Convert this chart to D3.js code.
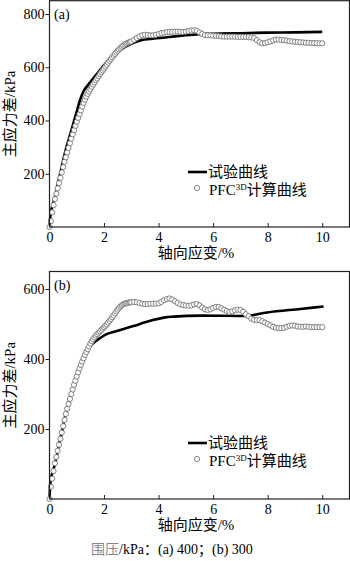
<!DOCTYPE html>
<html>
<head>
<meta charset="utf-8">
<script src="https://cdn.jsdelivr.net/npm/d3@7/dist/d3.min.js"></script>
<style>
html,body{margin:0;padding:0;background:#fff;}
svg{display:block;}
</style>
</head>
<body>
<svg id="chart" width="350" height="561"></svg>
<script>
// ---------- DATA ----------
const xTicks = [0, 2, 4, 6, 8, 10];
const yTicksA = [200, 400, 600, 800];
const yTicksB = [200, 400, 600];
const seriesNames = ["试验曲线", "PFC3D计算曲线"];
const captionLabel = "围压";
const captionRest = "/kPa：(a) 400；(b) 300";

// test curves [strain %, stress kPa]
const testA = [[0,0],[0.03,40],[0.2,112],[0.4,205],[0.6,292],[0.8,362],[1.0,434],[1.12,477],[1.24,508],[1.4,532],[1.6,558],[1.8,583],[2.0,608],[2.29,640],[2.5,658],[2.78,677],[3.0,688],[3.39,702],[3.7,706],[4.25,712],[4.6,716],[5.0,720],[5.5,724],[6.0,726],[7.0,728],[8.0,730],[9.0,731],[10.0,733]];
const testB = [[0,0],[0.03,45],[0.2,100],[0.4,172],[0.6,245],[0.8,300],[1.0,352],[1.2,398],[1.4,428],[1.6,445],[1.86,460],[2.04,469],[2.47,480],[3.08,494],[3.51,505],[3.69,509],[4.25,519],[4.55,521],[5.53,524],[7.12,523],[7.98,533],[9.2,543],[10.05,550]];

// PFC simulation sample strains (%)
const pfcStrain = [0,0.05,0.1,0.15,0.2,0.25,0.3,0.35,0.4,0.45,0.5,0.55,0.6,0.65,0.7,0.75,0.8,0.85,0.9,0.95,
1.0,1.05,1.1,1.15,1.2,1.25,1.3,1.35,1.4,1.45,1.5,1.55,1.6,1.65,1.7,1.75,1.8,1.85,1.9,1.95,
2.0,2.05,2.1,2.15,2.2,2.25,2.3,2.35,2.4,2.45,2.5,2.55,2.6,2.65,2.7,2.75,2.8,2.85,2.9,2.95,3.0,
3.1,3.2,3.3,3.4,3.5,3.6,3.7,3.8,3.9,4.0,
4.1,4.2,4.3,4.4,4.5,4.6,4.7,4.8,4.9,5.0,
5.1,5.2,5.3,5.4,5.5,5.6,5.7,5.8,5.9,6.0,
6.1,6.2,6.3,6.4,6.5,6.6,6.7,6.8,6.9,7.0,
7.1,7.2,7.3,7.4,7.5,7.6,7.7,7.8,7.9,8.0,
8.1,8.2,8.3,8.4,8.5,8.6,8.7,8.8,8.9,9.0,
9.1,9.2,9.3,9.4,9.5,9.6,9.7,9.8,9.9,10.0];

const pfcA = [0,22,55,82,105,125,145,165,185,205,225,245,262,280,297,315,332,348,364,380,
395,410,424,438,452,466,478,490,500,509,518,527,535,543,551,558,566,574,581,588,
595,602,609,617,624,631,638,644,650,656,662,667,672,677,681,685,688,691,693,695,697,
703,710,716,720,722,721,720,720,722,725,
728,730,732,733,733,734,734,733,733,734,
736,738,739,737,731,725,721,720,720,719,
718,717,716,715,715,715,715,715,714,714,
714,714,713,712,710,702,694,690,691,694,
697,701,704,704,702,702,700,698,697,696,
695,694,693,692,692,691,691,690,690,690];

const pfcB = [0,35,58,80,102,120,138,155,172,190,208,226,243,258,272,286,300,313,326,338,
350,362,373,383,393,402,412,420,428,436,444,451,457,462,467,471,475,479,483,487,
491,495,499,504,509,514,519,524,530,536,541,546,550,553,556,558,559,560,561,562,562,
563,562,560,558,557,557,558,558,558,559,
563,568,571,573,570,565,560,556,554,553,
552,553,556,557,553,547,542,540,542,546,
549,549,545,541,537,535,536,539,541,540,
535,528,522,515,512,511,511,508,504,500,
496,492,489,488,488,489,492,495,496,495,
493,492,492,493,492,491,491,491,491,491];

// ---------- DRAW ----------
const svg = d3.select("#chart");
const serif = "'Liberation Serif','Times New Roman',serif";
const cjk = "'Liberation Serif','Noto Sans CJK SC',serif";

function drawPanel(o) {
  const g = svg.append("g");
  const x = d3.scaleLinear().domain([0, 11]).range([49.5, 349.5]);
  const y = d3.scaleLinear().domain([0, o.yMax]).range([o.bottom, o.top]);

  // black test line
  const line = d3.line().x(d => x(d[0])).y(d => y(d[1])).curve(d3.curveMonotoneX);
  g.append("path").datum(o.test).attr("d", line)
    .attr("fill", "none").attr("stroke", "#000").attr("stroke-width", 2.6)
    .attr("stroke-linejoin", "round");

  // PFC circles
  const pts = pfcStrain.map((s, i) => [s, o.pfc[i]]).filter(d => d[1] !== undefined);
  g.append("g").selectAll("circle").data(pts).join("circle")
    .attr("cx", d => x(d[0])).attr("cy", d => y(d[1])).attr("r", 2.6)
    .attr("fill", "#fff").attr("stroke", "#666").attr("stroke-width", 0.8);

  // frame
  g.append("rect").attr("x", x(0)).attr("y", o.top)
    .attr("width", x(11) - x(0)).attr("height", o.bottom - o.top)
    .attr("fill", "none").attr("stroke", "#222").attr("stroke-width", 1.2);

  // x axis
  const xa = g.append("g").attr("transform", `translate(0,${o.bottom})`)
    .call(d3.axisBottom(x).tickValues(xTicks).tickSizeInner(-4).tickSizeOuter(0).tickPadding(5));
  xa.select(".domain").remove();
  xa.selectAll("line").attr("stroke", "#222");
  xa.selectAll("text").attr("font-family", serif).attr("font-size", 14).attr("fill", "#000");

  // y axis
  const ya = g.append("g").attr("transform", `translate(${x(0)},0)`)
    .call(d3.axisLeft(y).tickValues(o.yTicks).tickSizeInner(4).tickSizeOuter(0).tickPadding(1));
  ya.select(".domain").remove();
  ya.selectAll("line").attr("stroke", "#222");
  ya.selectAll("text").attr("font-family", serif).attr("font-size", 14).attr("fill", "#000");

  // panel label
  g.append("text").attr("x", 54).attr("y", o.top + 18).text(o.label)
    .attr("font-family", serif).attr("font-size", 14);

  // axis titles
  g.append("text").attr("x", 196).attr("y", o.bottom + 31).attr("text-anchor", "middle")
    .attr("font-family", cjk).attr("font-size", 15).text("轴向应变/%");
  g.append("text").attr("transform", `translate(15,${(o.top + o.bottom) / 2}) rotate(-90)`)
    .attr("text-anchor", "middle").attr("font-family", cjk).attr("font-size", 15)
    .text("主应力差/kPa");

  // legend
  g.append("line").attr("x1", 188).attr("x2", 207).attr("y1", o.legY).attr("y2", o.legY)
    .attr("stroke", "#000").attr("stroke-width", 2.6);
  g.append("text").attr("x", 208).attr("y", o.legY + 5).attr("font-family", cjk)
    .attr("font-size", 15).text(seriesNames[0]);
  g.append("circle").attr("cx", 197).attr("cy", o.legY + 16).attr("r", 2.6)
    .attr("fill", "#fff").attr("stroke", "#666").attr("stroke-width", 0.8);
  const t2 = g.append("text").attr("x", 209).attr("y", o.legY + 23)
    .attr("font-family", cjk).attr("font-size", 15);
  t2.append("tspan").text("PFC");
  t2.append("tspan").attr("font-size", 9).attr("dy", -5).text("3D");
  t2.append("tspan").attr("dy", 5).text("计算曲线");
}

drawPanel({label: "(a)", test: testA, pfc: pfcA, yMax: 850, top: 0.7, bottom: 227, yTicks: yTicksA, legY: 172});
drawPanel({label: "(b)", test: testB, pfc: pfcB, yMax: 650, top: 271.5, bottom: 499, yTicks: yTicksB, legY: 443});

// caption
const cap = svg.append("text").attr("x", 172).attr("y", 554).attr("text-anchor", "middle")
  .attr("font-family", cjk).attr("font-size", 14);
cap.append("tspan").attr("fill", "#888").text(captionLabel);
cap.append("tspan").attr("fill", "#000").text(captionRest);
</script>
</body>
</html>
